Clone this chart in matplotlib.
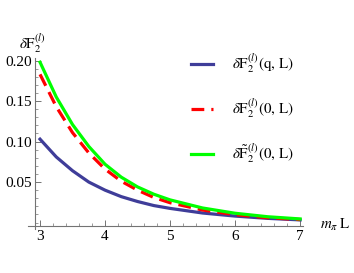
import matplotlib
matplotlib.use("Agg")
import matplotlib.pyplot as plt
from matplotlib.ticker import MultipleLocator, FixedLocator

# values (m_pi L vs delta F2)
mL = [3.0, 3.25, 3.5, 3.75, 4.0, 4.25, 4.5, 4.75, 5.0, 5.5, 6.0, 6.5, 7.0]
dF_q = [0.103, 0.081, 0.064, 0.050, 0.040, 0.032, 0.026, 0.021, 0.0175,
        0.0118, 0.0080, 0.0052, 0.0033]
dF_0 = [0.183, 0.143, 0.111, 0.086, 0.066, 0.051, 0.040, 0.031, 0.0245,
        0.0155, 0.0097, 0.0060, 0.0037]
dF_tilde = [0.198, 0.155, 0.121, 0.094, 0.072, 0.056, 0.044, 0.035, 0.028,
            0.018, 0.0115, 0.0072, 0.0045]

labels = [
    r"$\delta\mathrm{F}_2^{(l)}(\mathrm{q},\,\mathrm{L})$",
    r"$\delta\mathrm{F}_2^{(l)}(0,\,\mathrm{L})$",
    r"$\delta\tilde{\mathrm{F}}_2^{(l)}(0,\,\mathrm{L})$",
]
xticks = [3, 4, 5, 6, 7]
yticks = [0.05, 0.10, 0.15, 0.20]
ytick_labels = ["0.05", "0.10", "0.15", "0.20"]

plt.rcParams["font.family"] = ["Liberation Serif", "DejaVu Serif"]
plt.rcParams["mathtext.fontset"] = "stix"

fig = plt.figure(figsize=(3.54, 2.73), dpi=100)
ax = fig.add_axes([0.080, 0.161, 0.777, 0.626])

l1, = ax.plot(mL, dF_q, color="#3f3d99", lw=2.3, solid_joinstyle="round")
l2, = ax.plot(mL, dF_0, color="#ff0000", lw=2.3, dashes=(4, 2.2))
l3, = ax.plot(mL, dF_tilde, color="#00ff00", lw=2.3, solid_joinstyle="round")

ax.set_xlim(2.82, 7.05)
ax.set_ylim(-0.008, 0.203)

for side in ("top", "right"):
    ax.spines[side].set_visible(False)
ax.spines["left"].set_position(("data", 2.92))
ax.spines["bottom"].set_position(("data", -0.0045))
for side in ("left", "bottom"):
    ax.spines[side].set_color("0.45")
    ax.spines[side].set_linewidth(0.8)

ax.xaxis.set_major_locator(FixedLocator(xticks))
ax.xaxis.set_minor_locator(MultipleLocator(0.2))
ax.set_yticks(yticks)
ax.set_yticklabels(ytick_labels)
ax.yaxis.set_minor_locator(MultipleLocator(0.01))
ax.tick_params(which="both", direction="in", color="0.45", labelsize=11)
ax.tick_params(which="major", length=4, width=0.7)
ax.tick_params(which="minor", length=2, width=0.5)
ax.tick_params(axis="x", pad=3)
ax.tick_params(axis="y", pad=2)

fig.text(0.055, 0.84, r"$\delta\mathrm{F}_2^{(l)}$", fontsize=10.8, ha="left", va="center")
fig.text(0.903, 0.175, r"$m_\pi\;\mathrm{L}$", fontsize=10.8, ha="left", va="center")

fig.legend([l1, l2, l3], labels, loc="upper left",
           bbox_to_anchor=(0.50, 0.86), frameon=False, fontsize=10.8,
           handlelength=1.5, handletextpad=1.25, labelspacing=1.45)

fig.savefig("out.png", dpi=100)
